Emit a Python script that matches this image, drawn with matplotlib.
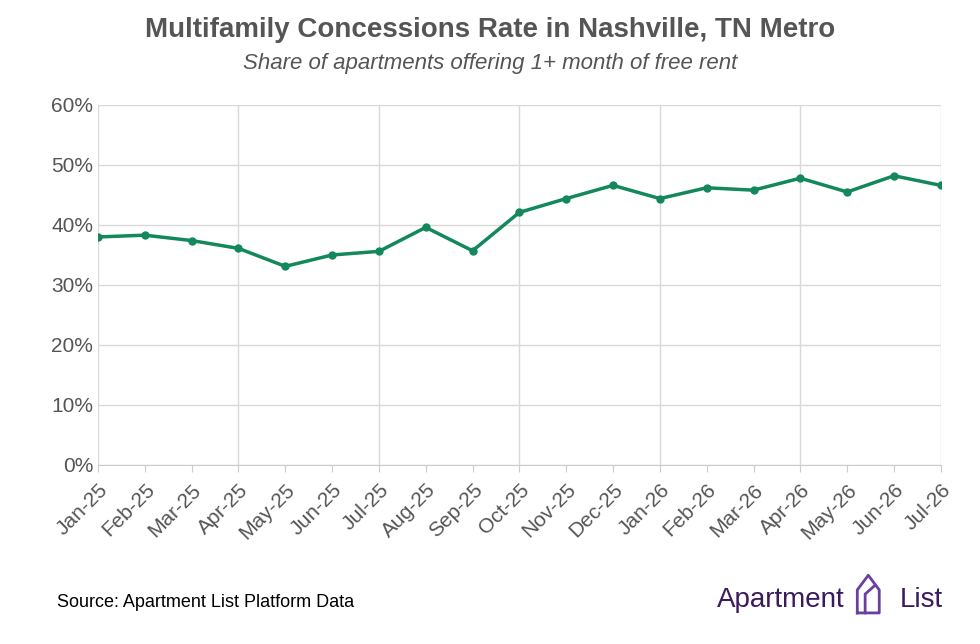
import matplotlib.pyplot as plt
from matplotlib.ticker import FuncFormatter, MultipleLocator

plt.rcParams['font.family'] = ['Liberation Sans', 'DejaVu Sans']

months = ["Jan-25", "Feb-25", "Mar-25", "Apr-25", "May-25", "Jun-25", "Jul-25", "Aug-25", "Sep-25",
          "Oct-25", "Nov-25", "Dec-25", "Jan-26", "Feb-26", "Mar-26", "Apr-26", "May-26", "Jun-26", "Jul-26"]
rates = [38.0, 38.3, 37.4, 36.1, 33.1, 35.0, 35.6, 39.6, 35.7,
         42.1, 44.4, 46.6, 44.4, 46.2, 45.8, 47.8, 45.5, 48.2, 46.6]

green = "#12885b"
grey = "#555555"
purple = "#3a1a5c"

fig = plt.figure(figsize=(9.8, 6.44), dpi=100)
ax = fig.add_axes([0.1, 0.278, 0.86, 0.559])

x = list(range(len(months)))
ax.plot(x, rates, color=green, linewidth=2.5, marker="o", markersize=5)

ax.set_xlim(0, len(months) - 1)
ax.set_ylim(0, 60)
ax.yaxis.set_major_locator(MultipleLocator(10))
ax.yaxis.set_major_formatter(FuncFormatter(lambda v, p: f"{v:.0f}%"))
ax.set_xticks(x)
ax.set_xticklabels(months, rotation=45, ha="right", rotation_mode="anchor")
ax.tick_params(axis="both", labelsize=15, colors=grey, length=0)
ax.tick_params(axis="x", length=5, color="#cccccc", pad=6)

ax.grid(axis="y", color="#d9d9d9", linewidth=1)
for i in x[::3]:
    ax.axvline(i, color="#d9d9d9", linewidth=1, zorder=0)
for s in ["top", "right", "left"]:
    ax.spines[s].set_visible(False)
ax.spines["bottom"].set_color("#cccccc")

fig.text(0.5, 0.942, "Multifamily Concessions Rate in Nashville, TN Metro", ha="center",
         fontsize=20, fontweight="bold", color=grey)
fig.text(0.5, 0.893, "Share of apartments offering 1+ month of free rent", ha="center",
         fontsize=16, style="italic", color=grey)
fig.text(0.058, 0.058, "Source: Apartment List Platform Data", fontsize=13, color="black")
fig.text(0.862, 0.058, "Apartment", ha="right", fontsize=20, color=purple)
fig.text(0.962, 0.058, "List", ha="right", fontsize=20, color=purple)

# small logo mark
lx = fig.add_axes([0.870, 0.045, 0.032, 0.065])
lx.axis("off")
lx.plot([0.15, 0.15, 0.5, 0.85, 0.85, 0.15], [0.05, 0.6, 0.95, 0.6, 0.05, 0.05], color="#6b3fa0", lw=2)
lx.plot([0.4, 0.4, 0.7], [0.05, 0.5, 0.7], color="#6b3fa0", lw=2)
lx.set_xlim(0, 1)
lx.set_ylim(0, 1)

fig.savefig("out.png", dpi=100)
